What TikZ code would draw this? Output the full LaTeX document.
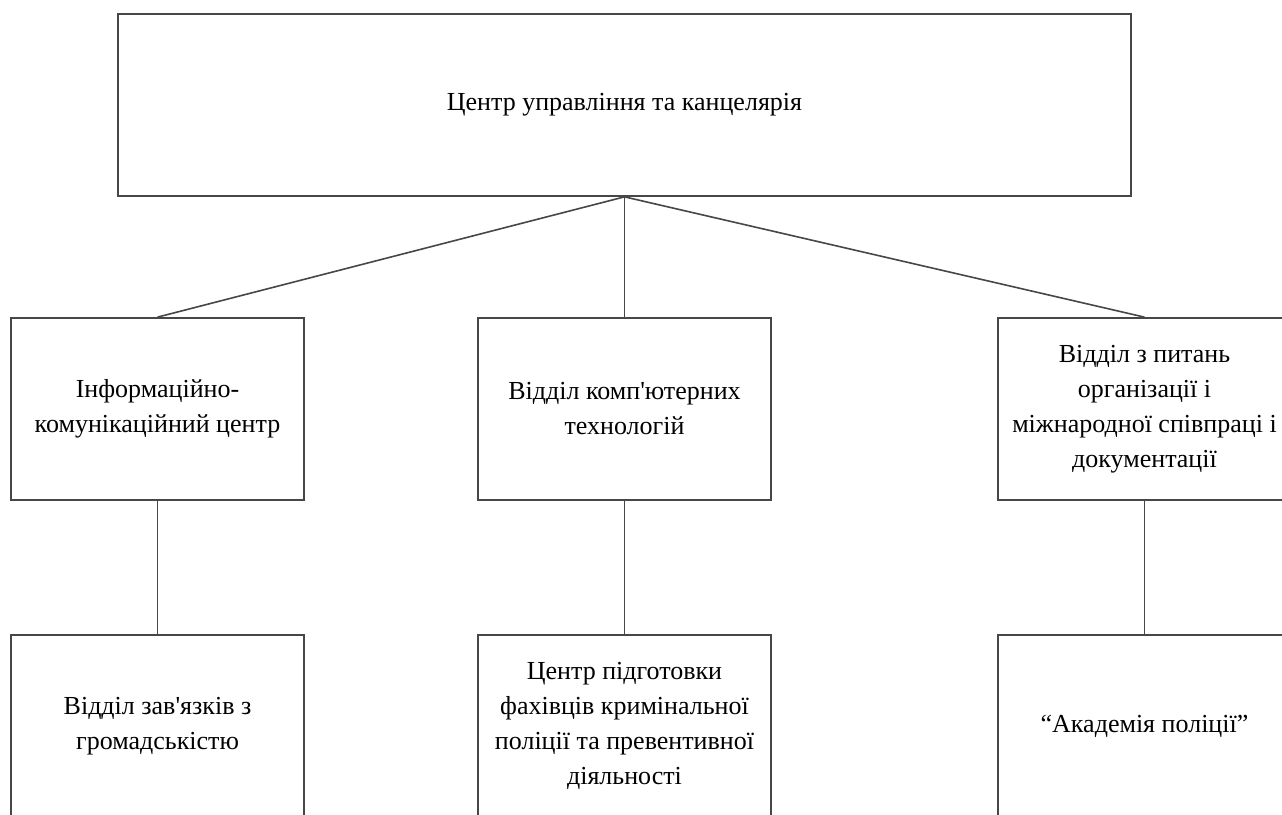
\documentclass[tikz,border=0pt]{standalone}
\usepackage{fontspec}
\setmainfont{Liberation Serif}[Ligatures=TeXOff]
\begin{document}
\begin{tikzpicture}[x=1pt,y=1pt,
  box/.style={draw=black!72, line width=1.7pt, fill=white, inner sep=0pt, align=center,
    font=\fontsize{26}{35}\selectfont},
  link/.style={draw=black!72, line width=1.6pt}]
\useasboundingbox (0,0) rectangle (1282,814);
\clip (0,0) rectangle (1282,814);
% top
\node[box, minimum width=1013pt, minimum height=182pt] (top) at (624.5,709) {Центр управління та канцелярія};
% middle row
\node[box, minimum width=293pt, minimum height=182pt] (m1) at (157.5,405) {Інформаційно-\\комунікаційний центр};
\node[box, minimum width=293pt, minimum height=182pt] (m2) at (624.5,405) {Відділ комп'ютерних\\технологій};
\node[box, minimum width=293pt, minimum height=182pt] (m3) at (1144.5,405) {Відділ з питань\\організації і\\міжнародної співпраці і\\документації};
% bottom row
\node[box, minimum width=293pt, minimum height=182pt] (b1) at (157.5,88) {Відділ зав'язків з\\громадськістю};
\node[box, minimum width=293pt, minimum height=182pt] (b2) at (624.5,88) {Центр підготовки\\фахівців кримінальної\\поліції та превентивної\\діяльності};
\node[box, minimum width=293pt, minimum height=182pt] (b3) at (1144.5,88) {“Академія поліції”};
% connectors
\draw[link] (top.south) -- (m1.north);
\draw[link] (top.south) -- (m2.north);
\draw[link] (top.south) -- (m3.north);
\draw[link] (m1.south) -- (b1.north);
\draw[link] (m2.south) -- (b2.north);
\draw[link] (m3.south) -- (b3.north);
\end{tikzpicture}
\end{document}
